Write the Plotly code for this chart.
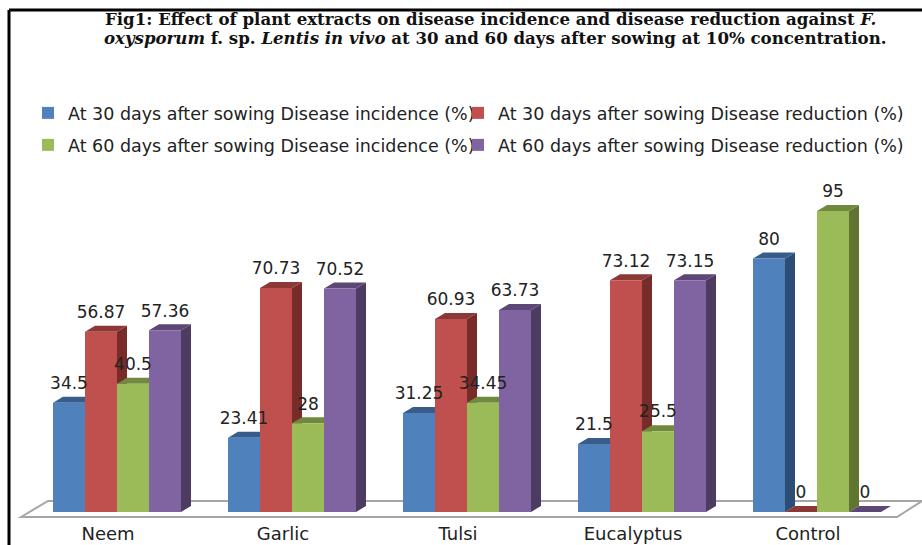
import plotly.graph_objects as go

categories = ["Neem", "Garlic", "Tulsi", "Eucalyptus", "Control"]
incidence_30 = [34.5, 23.41, 31.25, 21.5, 80]
reduction_30 = [56.87, 70.73, 60.93, 73.12, 0]
incidence_60 = [40.5, 28, 34.45, 25.5, 95]
reduction_60 = [57.36, 70.52, 63.73, 73.15, 0]

names = [
    "At 30 days after sowing Disease incidence (%)",
    "At 30 days after sowing Disease reduction (%)",
    "At 60 days after sowing Disease incidence (%)",
    "At 60 days after sowing Disease reduction (%)",
]
series = [incidence_30, reduction_30, incidence_60, reduction_60]
front = ["#4F81BD", "#C0504D", "#9BBB59", "#8064A2"]
side = ["#2C4D75", "#772C2A", "#5F7530", "#4D3B62"]
top = ["#385D8A", "#8C3836", "#71893F", "#5C4776"]
legends = ["legend", "legend2", "legend3", "legend4"]

W, H = 922, 545
PX_X = 175.0            # px per category
PX_Y = 3.168            # px per value unit
BASE_PX = 512
CAT0_PX = 108
BAR0_PX = 53
BAR_PX = 32
DX = 10 / PX_X
DY = 6 / PX_Y
bar_w = BAR_PX / PX_X
xr = [-CAT0_PX / PX_X, (W - CAT0_PX) / PX_X]
yr = [0, BASE_PX / PX_Y]
x_pos = list(range(len(categories)))

fig = go.Figure()

# depth faces, lower layer
for s, vals in enumerate(series):
    off = (BAR0_PX + s * BAR_PX - CAT0_PX) / PX_X
    sx, sy, tx, ty = [], [], [], []
    for i, v in zip(x_pos, vals):
        l = i + off
        r = l + bar_w
        sx += [r, r + DX, r + DX, r, r, None]
        sy += [0, DY, v + DY, v, 0, None]
        tx += [l, r, r + DX, l + DX, l, None]
        ty += [v, v, v + DY, v + DY, v, None]
    fig.add_trace(go.Scatter(x=sx, y=sy, mode="lines", fill="toself", fillcolor=side[s],
                             line=dict(width=0, color=side[s]), showlegend=False, hoverinfo="skip"))
    fig.add_trace(go.Scatter(x=tx, y=ty, mode="lines", fill="toself", fillcolor=top[s],
                             line=dict(width=0, color=top[s]), showlegend=False, hoverinfo="skip"))

# front faces, upper layer
for s, vals in enumerate(series):
    off = (BAR0_PX + s * BAR_PX - CAT0_PX) / PX_X
    fig.add_trace(go.Bar(x=x_pos, y=vals, name=names[s], marker=dict(color=front[s], line=dict(width=0)),
                         width=bar_w, offset=off, xaxis="x2", yaxis="y2", legend=legends[s]))

# value labels
LIFT = 18 / PX_Y
for s, vals in enumerate(series):
    off = (BAR0_PX + s * BAR_PX - CAT0_PX) / PX_X
    fig.add_trace(go.Scatter(x=[i + off + bar_w / 2 for i in x_pos], y=[v + LIFT for v in vals],
                             text=[f"{v:g}" for v in vals], mode="text", textposition="middle center",
                             textfont=dict(family="DejaVu Sans", size=17, color="#222222"),
                             xaxis="x2", yaxis="y2", showlegend=False, hoverinfo="skip"))

def px(x):
    return x / W

def py(y):
    return 1 - y / BASE_PX

shapes = [
    # floor
    dict(type="path", xref="paper", yref="paper", layer="below",
         path=f"M{px(21)},{py(517)} L{px(48)},{py(501)} L{px(922)},{py(501)} L{px(897)},{py(517)} Z",
         fillcolor="white", line=dict(color="#A6A6A6", width=2)),
    # outer frame
    dict(type="line", xref="paper", yref="paper", x0=px(9), x1=px(922), y0=py(10), y1=py(10),
         line=dict(color="black", width=3)),
    dict(type="line", xref="paper", yref="paper", x0=px(9), x1=px(9), y0=py(10), y1=py(545),
         line=dict(color="black", width=3)),
]

title_font = dict(family="DejaVu Serif", size=16.6, color="#111111")
annotations = [
    dict(text="<b>Fig1: Effect of plant extracts on disease incidence and disease reduction against <i>F.</i></b>",
         xref="paper", yref="paper", x=px(103), y=py(19), xanchor="left", yanchor="middle",
         showarrow=False, font=title_font),
    dict(text="<b><i>oxysporum</i> f. sp. <i>Lentis in vivo</i> at 30 and 60 days after sowing at 10% concentration.</b>",
         xref="paper", yref="paper", x=px(102), y=py(38), xanchor="left", yanchor="middle",
         showarrow=False, font=title_font),
]

legend_common = dict(orientation="h", xanchor="left", yanchor="middle",
                     bgcolor="rgba(0,0,0,0)",
                     font=dict(family="DejaVu Sans", size=17.5, color="#222222"))

fig.update_layout(
    width=W, height=H, autosize=False,
    margin=dict(l=0, r=0, t=0, b=H - BASE_PX, pad=0, autoexpand=False),
    paper_bgcolor="white", plot_bgcolor="rgba(0,0,0,0)",
    font=dict(family="DejaVu Sans", color="#222222"),
    barmode="overlay",
    showlegend=True,
    legend=dict(x=px(28), y=py(113), **legend_common),
    legend2=dict(x=px(458), y=py(113), **legend_common),
    legend3=dict(x=px(28), y=py(145), **legend_common),
    legend4=dict(x=px(458), y=py(145), **legend_common),
    shapes=shapes,
    annotations=annotations,
    xaxis=dict(range=xr, tickmode="array", tickvals=x_pos, ticktext=categories, automargin=False,
               showgrid=False, zeroline=False, showline=False, ticks="outside",
               ticklen=5, tickcolor="rgba(0,0,0,0)", tickfont=dict(family="DejaVu Sans", size=18, color="#222222")),
    yaxis=dict(range=yr, visible=False, showgrid=False, zeroline=False, automargin=False),
    xaxis2=dict(range=xr, overlaying="x", visible=False, matches="x"),
    yaxis2=dict(range=yr, overlaying="y", visible=False, matches="y"),
)

fig.write_html("out.html", config=dict(displayModeBar=False),
               post_script="document.body.style.margin='0';document.documentElement.style.overflow='hidden';")
